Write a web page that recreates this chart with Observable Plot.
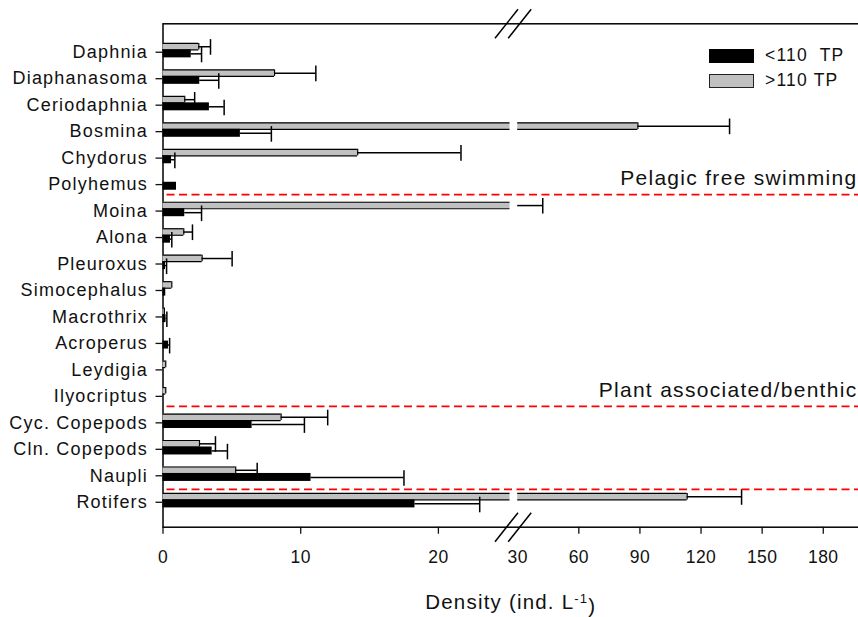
<!DOCTYPE html>
<html><head><meta charset="utf-8">
<script src="https://cdn.jsdelivr.net/npm/d3@7"></script>
<script src="https://cdn.jsdelivr.net/npm/@observablehq/plot@0.6"></script>
<style>
body{margin:0;background:#fff;}
#wrap{position:relative;width:858px;height:617px;font-family:"Liberation Sans",Arial,sans-serif;overflow:hidden;}
.lg{position:absolute;font-size:17.5px;letter-spacing:1.2px;color:#111;white-space:pre;line-height:1;}
.sw{position:absolute;box-sizing:border-box;width:45px;height:14px;}
</style></head><body><div id="wrap"></div>
<script>
// ---- data ----
const categories = ["Daphnia","Diaphanasoma","Ceriodaphnia","Bosmina","Chydorus","Polyhemus","Moina","Alona","Pleuroxus","Simocephalus","Macrothrix","Acroperus","Leydigia","Ilyocriptus","Cyc. Copepods","Cln. Copepods","Naupli","Rotifers"];
const lowMean  = [2.05, 2.67, 3.37, 5.62, 0.62, 0.98, 1.58, 0.54, 0.18, 0.2, 0.22, 0.4, 0, 0, 6.47, 3.57, 10.75, 18.3];
const lowSE    = [0.75, 1.38, 1.07, 2.25, 0.24, 0, 1.22, 0.1, 0.08, 0, 0.06, 0.08, 0, 0, 3.8, 1.11, 6.75, 4.7];
const highMean = [2.6, 8.1, 1.58, 89.0, 14.14, 0, 28, 1.51, 2.84, 0.64, 0.1, 0, 0.2, 0.2, 8.58, 2.65, 5.28, 113.2];
const highSE   = [0.85, 3.0, 0.72, 45, 7.5, 0, 14.3, 0.63, 2.18, 0, 0, 0, 0, 0, 3.38, 1.16, 1.56, 26.7];
const xTicks = [0, 10, 20, 60, 90, 120, 150, 180];
const xBreakTick = [30];
const separators = ["Polyhemus", "Ilyocriptus", "Naupli"];
const groupNames = ["Pelagic free swimming", "Plant associated/benthic"];
const groupAfter = ["Polyhemus", "Ilyocriptus"];
const seriesLabels = ["<110  TP", ">110 TP"];
const xLabel = "Density (ind. L-1)";

// ---- broken axis helpers ----
const BREAK_LO = 25.2, BREAK_HI = 30, XMAX = 197;
function pieces(a, b) {
  const out = [];
  if (a < BREAK_LO) { const e = Math.min(b, BREAK_LO); if (e > a) out.push([a, e]); }
  if (b > BREAK_HI) { const s = Math.max(a, BREAK_HI); if (b > s) out.push([s, b]); }
  return out;
}
function build(means, ses) {
  const bars = [], whisk = [], caps = [], ends = [];
  categories.forEach((c, i) => {
    const m = means[i], s = ses[i];
    if (m > 0) {
      pieces(0, m).forEach(([a, b]) => bars.push({cat: c, x1: a, x2: b}));
      if (m <= BREAK_LO || m >= BREAK_HI) ends.push({cat: c, x: m});
    }
    if (s > 0) {
      pieces(m, m + s).forEach(([a, b]) => whisk.push({cat: c, x1: a, x2: b}));
      caps.push({cat: c, x: m + s});
    }
  });
  return {bars, whisk, caps, ends};
}
const low = build(lowMean, lowSE);
const high = build(highMean, highSE);
const sepData = separators.map((c, i) => ({cat: c, k: i}));
const groupData = groupNames.map((t, i) => ({cat: groupAfter[i], text: t}));
const tickTexts = xTicks.concat(xBreakTick).map(String);

const W = 858, H = 617;
const chart = Plot.plot({
  width: W, height: H,
  marginLeft: 162.5, marginRight: 0, marginTop: 23.3, marginBottom: 90.3,
  style: {fontFamily: '"Liberation Sans", Arial, sans-serif', fontSize: "18px", color: "#111", background: "transparent"},
  x: {type: "linear", domain: [0, BREAK_LO, BREAK_HI, XMAX], range: [162.5, 509.5, 517.2, 857.4], clamp: false},
  y: {type: "band", domain: categories, range: [38.5, 515], padding: 0, round: false},
  marks: [
    Plot.frame({stroke: "#000", strokeWidth: 1.5, insetRight: -4}),
    // gray bars (>110 TP)
    Plot.barX(high.bars, {x1: "x1", x2: "x2", y: "cat", fill: "#c0c0c0", insetTop: 4.4, insetBottom: 15.5}),
    Plot.ruleY(high.bars, {x1: "x1", x2: "x2", y: "cat", dy: -8.8, stroke: "#000", strokeWidth: 1.2}),
    Plot.ruleY(high.bars, {x1: "x1", x2: "x2", y: "cat", dy: -2.3, stroke: "#000", strokeWidth: 1.2}),
    Plot.tickX(high.ends, {x: "x", y: "cat", insetTop: 4.4, insetBottom: 15.5, stroke: "#000", strokeWidth: 1.2}),
    // black bars (<110 TP)
    Plot.barX(low.bars, {x1: "x1", x2: "x2", y: "cat", fill: "#000", insetTop: 10.9, insetBottom: 7.6}),
    // error bars
    Plot.ruleY(high.whisk, {x1: "x1", x2: "x2", y: "cat", dy: -5.5, stroke: "#000", strokeWidth: 1.5}),
    Plot.tickX(high.caps, {x: "x", y: "cat", insetTop: 0.6, insetBottom: 10.2, stroke: "#000", strokeWidth: 1.5}),
    Plot.ruleY(low.whisk, {x1: "x1", x2: "x2", y: "cat", dy: 1.6, stroke: "#000", strokeWidth: 1.5}),
    Plot.tickX(low.caps, {x: "x", y: "cat", insetTop: 8.2, insetBottom: 2.7, stroke: "#000", strokeWidth: 1.5}),
    // separators
    Plot.ruleY(sepData.filter(d => d.k < 2), {y: "cat", dy: 10, insetLeft: 4, stroke: "#ff0000", strokeWidth: 1.6, strokeDasharray: "8,4.5"}),
    Plot.ruleY(sepData.filter(d => d.k === 2), {y: "cat", dy: 13.6, insetLeft: 4, stroke: "#ff0000", strokeWidth: 1.6, strokeDasharray: "8,4.5"}),
    // group labels
    Plot.text(groupData, {y: "cat", text: "text", frameAnchor: "right", textAnchor: "end", dx: -1, dy: -6.5, fontSize: 21, fill: "#111"}),
    // axes
    Plot.axisY({anchor: "left", tickSize: 7, tickPadding: 8, fontSize: 18, label: null, strokeWidth: 1.3, fill: "#111"}),
    Plot.axisX({anchor: "bottom", ticks: xTicks, tickSize: 7, tickPadding: 16, fontSize: 17.5, label: null, strokeWidth: 1.3, fill: "#111", tickFormat: d => String(d)}),
    Plot.axisX({anchor: "bottom", ticks: xBreakTick, tickSize: 0, tickPadding: 23, fontSize: 17.5, label: null, fill: "#111", tickFormat: d => String(d)}),
    Plot.text([xLabel], {frameAnchor: "bottom", text: d => d, dy: 82, fontSize: 20.5, fill: "#111"})
  ]
});

document.getElementById("wrap").appendChild(chart);
const svg = d3.select(chart);

// letter spacing as in the reference rendering
svg.selectAll("text").attr("letter-spacing", "1.2px").style("letter-spacing", "1.2px");
svg.selectAll("text").filter(function () { return groupNames.includes(this.textContent); }).attr("letter-spacing", "1.3px").style("letter-spacing", "1.3px");
svg.selectAll("text").filter(function () { return tickTexts.includes(this.textContent); }).attr("letter-spacing", "0.4px").style("letter-spacing", "0.4px");

// superscript in axis title
svg.selectAll("text").filter(function () { return this.textContent === xLabel; }).each(function () {
  const t = d3.select(this);
  t.text(null);
  t.append("tspan").text("Density (ind. L");
  t.append("tspan").attr("dy", "-0.45em").attr("font-size", "13px").text("-1");
  t.append("tspan").attr("dy", "0.45em").text(")");
});

// axis-break slashes on top and bottom frame lines
const xs = chart.scale("x");
const xa = xs.apply(BREAK_LO) - 3, xb = xs.apply(BREAK_HI) + 2.5;
const yTop = 23.3, yBot = H - 90.3;
[yTop, yBot].forEach(y0 => {
  [xa, xb].forEach(x0 => {
    svg.append("line").attr("x1", x0 - 11.5).attr("y1", y0 + 15).attr("x2", x0 + 11.5).attr("y2", y0 - 14)
      .attr("stroke", "#000").attr("stroke-width", 1.5);
  });
});

// legend
const wrap = document.getElementById("wrap");
const lg = [
  {label: seriesLabels[0], top: 49, style: "background:#000;"},
  {label: seriesLabels[1], top: 74.3, style: "background:#c0c0c0;border:1.5px solid #222;"}
];
lg.forEach(d => {
  const sw = document.createElement("div");
  sw.className = "sw"; sw.style.cssText = `left:709px;top:${d.top}px;` + d.style;
  wrap.appendChild(sw);
  const tx = document.createElement("div");
  tx.className = "lg"; tx.style.cssText = `left:765px;top:${d.top - 2}px;`;
  tx.textContent = d.label;
  wrap.appendChild(tx);
});
</script></body></html>
